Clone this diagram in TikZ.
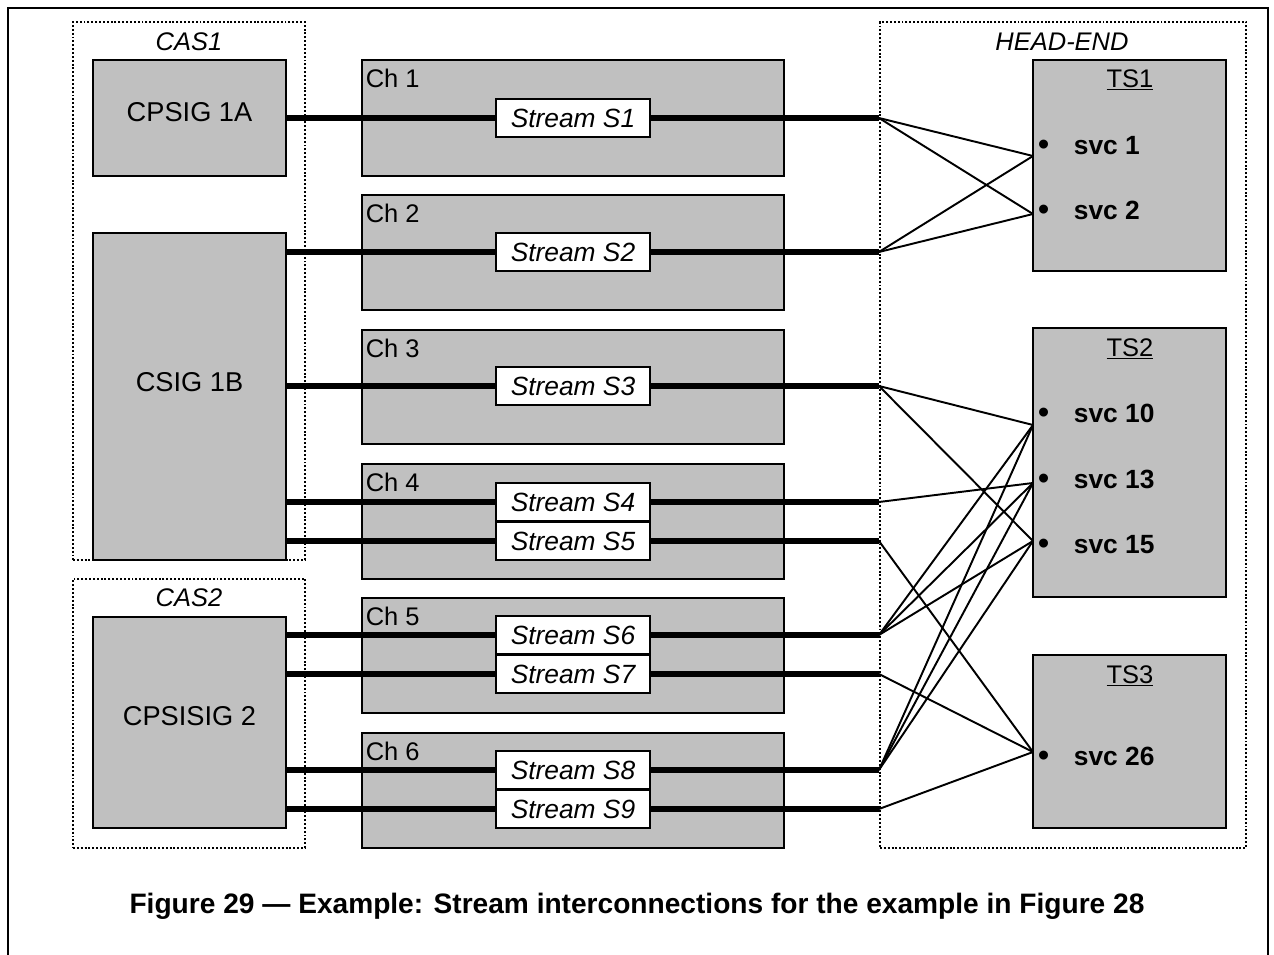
\documentclass[tikz,border=0pt]{standalone}
\usepackage{fontspec}
\setmainfont{Liberation Sans}
\usetikzlibrary{fit}
\definecolor{boxgray}{RGB}{192,192,192}

\begin{document}
\begin{tikzpicture}[x=0.02cm,y=-0.02cm,
  txt/.style={font=\fontsize{14.5}{17}\selectfont},
  frame/.style={line width=1.2pt},
  grouping/.style={draw, line width=1.2pt, dash pattern=on 1.1pt off 1.1pt, inner sep=0pt},
  grouptitle/.style={font=\fontsize{14.5}{17}\selectfont\itshape},
  graybox/.style={draw, fill=boxgray, line width=1.1pt, inner sep=0pt},
  chbox/.style={graybox},
  chlabel/.style={txt, anchor=north west, inner sep=2.5pt, yshift=-2.8pt},
  boxlabel/.style={font=\fontsize{15.5}{18}\selectfont},
  streambox/.style={draw, fill=white, line width=1.1pt, minimum width=3.08cm,
    minimum height=0.77cm, inner sep=0pt, font=\fontsize{15}{17}\selectfont\itshape},
  feed/.style={line width=3pt},
  link/.style={line width=1.1pt},
  svclabel/.style={anchor=west, inner sep=0pt, font=\fontsize{15}{17}\selectfont},
  tslabel/.style={txt}
]
\useasboundingbox (0,0) rectangle (1274,955);

% page frame, open at the bottom
\draw[frame] (8,955) -- (8,8) -- (1268,8) -- (1268,955);

% dotted groupings
\node[grouping, fit={(73,22) (305,560)}] (cas1) {};
\node[grouping, fit={(73,579) (305,848)}] (cas2) {};
\node[grouping, fit={(880,22) (1246,848)}] (headend) {};
\node[grouptitle] (cas1t) at (189,42) {CAS1};
\node[grouptitle] (cas2t) at (189,598) {CAS2};
\node[grouptitle] (headendt) at (1062,42) {HEAD-END};

% signal generators
\node[graybox, fit={(93,60) (286,176)}] (cpsig1a) {};
\node[boxlabel] (cpsig1al) at (189.5,112) {CPSIG 1A};
\node[graybox, fit={(93,233) (286,560)}] (csig1b) {};
\node[boxlabel] (csig1bl) at (189.5,382) {CSIG 1B};
\node[graybox, fit={(93,617) (286,828)}] (cpsisig2) {};
\node[boxlabel] (cpsisig2l) at (189.5,716) {CPSISIG 2};

% channels
\node[chbox, fit={(362,60) (784,176)}, label={[chlabel]north west:Ch 1}] (ch1) {};
\node[chbox, fit={(362,195) (784,310)}, label={[chlabel]north west:Ch 2}] (ch2) {};
\node[chbox, fit={(362,330) (784,444)}, label={[chlabel]north west:Ch 3}] (ch3) {};
\node[chbox, fit={(362,464) (784,579)}, label={[chlabel]north west:Ch 4}] (ch4) {};
\node[chbox, fit={(362,598) (784,713)}, label={[chlabel]north west:Ch 5}] (ch5) {};
\node[chbox, fit={(362,733) (784,848)}, label={[chlabel]north west:Ch 6}] (ch6) {};

% transport streams
\node[graybox, fit={(1033,60) (1226,271)}] (ts1) {};
\node[graybox, fit={(1033,328) (1226,597)}] (ts2) {};
\node[graybox, fit={(1033,655) (1226,828)}] (ts3) {};
\node[tslabel] (ts1l) at (1130,80) {\underline{TS1}};
\node[tslabel] (ts2l) at (1130,349) {\underline{TS2}};
\node[tslabel] (ts3l) at (1130,676) {\underline{TS3}};

\newcommand{\svcitem}[1]{\makebox[20.5pt][l]{\raisebox{-0.3pt}{\scalebox{1.25}{\textbullet}}}\textbf{#1}}
\node[svclabel] (svc1) at (1037.5,146) {\svcitem{svc 1}};
\node[svclabel] (svc2) at (1037.5,211) {\svcitem{svc 2}};
\node[svclabel] (svc10) at (1037.5,414) {\svcitem{svc 10}};
\node[svclabel] (svc13) at (1037.5,480) {\svcitem{svc 13}};
\node[svclabel] (svc15) at (1037.5,545) {\svcitem{svc 15}};
\node[svclabel] (svc26) at (1037.5,757) {\svcitem{svc 26}};

% service entry points on the transport stream boxes
\coordinate (in1) at (1033,156);
\coordinate (in2) at (1033,214);
\coordinate (in10) at (1033,425);
\coordinate (in13) at (1033,483);
\coordinate (in15) at (1033,541);
\coordinate (in26) at (1033,752);

% streams
\node[streambox] (s1) at (573,118) {Stream S1};
\node[streambox] (s2) at (573,252) {Stream S2};
\node[streambox] (s3) at (573,386) {Stream S3};
\node[streambox] (s4) at (573,502) {Stream S4};
\node[streambox] (s5) at (573,541) {Stream S5};
\node[streambox] (s6) at (573,635) {Stream S6};
\node[streambox] (s7) at (573,674) {Stream S7};
\node[streambox] (s8) at (573,770) {Stream S8};
\node[streambox] (s9) at (573,809) {Stream S9};

% stream outputs at the head-end boundary
\foreach \i in {1,...,9} {
  \coordinate (o\i) at (headend.west |- s\i);
}

% feeds from signal generators through the channels
\draw[feed] (cpsig1a.east |- s1) -- (s1.west);
\foreach \i in {2,3,4,5} {
  \draw[feed] (csig1b.east |- s\i) -- (s\i.west);
}
\foreach \i in {6,7,8,9} {
  \draw[feed] (cpsisig2.east |- s\i) -- (s\i.west);
}
\foreach \i in {1,...,9} {
  \draw[feed] (s\i.east) -- (o\i);
}

% stream to service mapping
\draw[link] (o1) -- (in1);
\draw[link] (o1) -- (in2);
\draw[link] (o2) -- (in1);
\draw[link] (o2) -- (in2);
\draw[link] (o3) -- (in10);
\draw[link] (o3) -- (in15);
\draw[link] (o4) -- (in13);
\draw[link] (o5) -- (in26);
\draw[link] (o6) -- (in10);
\draw[link] (o6) -- (in13);
\draw[link] (o6) -- (in15);
\draw[link] (o7) -- (in26);
\draw[link] (o8) -- (in10);
\draw[link] (o8) -- (in13);
\draw[link] (o8) -- (in15);
\draw[link] (o9) -- (in26);

% caption
\node[font=\fontsize{16}{19}\selectfont\bfseries] (caption) at (637,906)
  {Figure 29 — Example: Stream interconnections for the example in Figure 28};
\end{tikzpicture}
\end{document}
